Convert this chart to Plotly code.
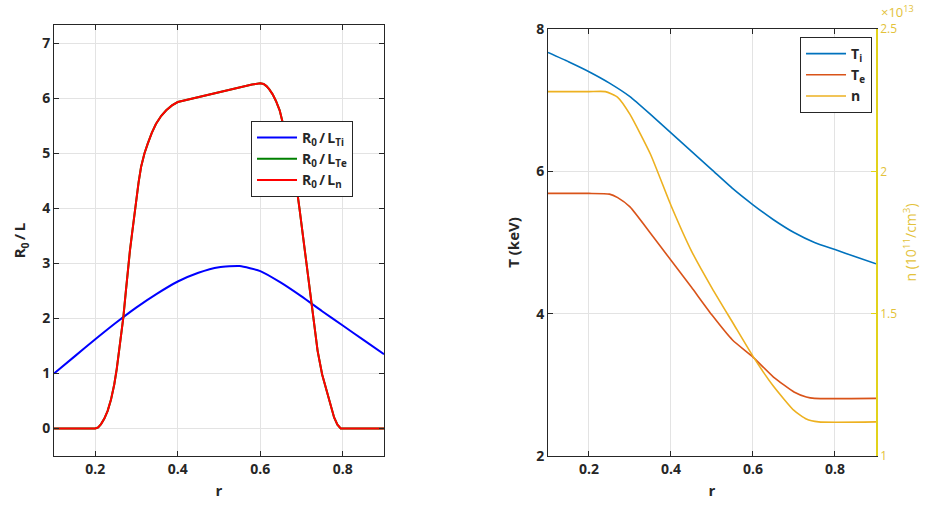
import plotly.graph_objects as go

# ---------------- data: left panel ----------------
r_ti = [0.1, 0.15, 0.2, 0.25, 0.3, 0.35, 0.4, 0.45, 0.5, 0.55, 0.6, 0.65, 0.7, 0.75, 0.8, 0.85, 0.9]
R0_LTi = [1.0, 1.31, 1.62, 1.92, 2.2, 2.45, 2.67, 2.83, 2.93, 2.95, 2.86, 2.65, 2.4, 2.13, 1.87, 1.61, 1.35]

r_n = [0.1, 0.2, 0.207, 0.214, 0.222, 0.23, 0.238, 0.246, 0.252, 0.258, 0.263, 0.268, 0.274, 0.279,
       0.284, 0.289, 0.294, 0.299, 0.305, 0.311, 0.319, 0.327, 0.337, 0.347, 0.36, 0.372, 0.386,
       0.4, 0.45, 0.5, 0.55, 0.58, 0.6, 0.608, 0.615, 0.622, 0.63, 0.638, 0.647, 0.656, 0.665,
       0.676, 0.687, 0.695, 0.703, 0.713, 0.723, 0.731, 0.739, 0.75, 0.763, 0.771, 0.779, 0.787,
       0.795, 0.9]
R0_Ln = [0.0, 0.0, 0.02, 0.08, 0.18, 0.32, 0.52, 0.8, 1.08, 1.41, 1.72, 2.02, 2.48, 2.93,
         3.23, 3.53, 3.84, 4.14, 4.47, 4.75, 4.99, 5.17, 5.37, 5.53, 5.68, 5.78, 5.87,
         5.93, 6.02, 6.1, 6.19, 6.25, 6.27, 6.26, 6.22, 6.16, 6.07, 5.95, 5.78, 5.53, 5.23,
         4.85, 4.44, 4.0, 3.53, 2.92, 2.32, 1.84, 1.41, 0.98, 0.62, 0.38, 0.2, 0.07,
         0.0, 0.0]
R0_LTe = R0_Ln  # coincides with R0/Ln (hidden beneath it)

# ---------------- data: right panel ----------------
r_T = [0.1, 0.15, 0.2, 0.25, 0.3, 0.35, 0.4, 0.45, 0.5, 0.55, 0.6, 0.65, 0.7, 0.75, 0.8, 0.85, 0.9]
Ti = [7.67, 7.54, 7.40, 7.24, 7.05, 6.80, 6.54, 6.28, 6.02, 5.76, 5.53, 5.32, 5.14, 5.00, 4.90, 4.80, 4.70]
r_Te = [0.1, 0.2, 0.25, 0.27, 0.3, 0.35, 0.4, 0.45, 0.5, 0.55, 0.6, 0.65, 0.7, 0.73, 0.75, 0.9]
Te = [5.69, 5.69, 5.68, 5.63, 5.50, 5.13, 4.75, 4.37, 3.98, 3.63, 3.39, 3.11, 2.90, 2.83, 2.81, 2.81]
r_dens = [0.1, 0.2, 0.24, 0.27, 0.3, 0.35, 0.4, 0.45, 0.5, 0.55, 0.6, 0.65, 0.7, 0.73, 0.76, 0.9]
n_dens = [2.28, 2.28, 2.28, 2.26, 2.2, 2.06, 1.88, 1.72, 1.59, 1.47, 1.35, 1.245, 1.16, 1.13, 1.12, 1.12]  # x10^13

left_xticks = [0.2, 0.4, 0.6, 0.8]
left_yticks = [0, 1, 2, 3, 4, 5, 6, 7]
right_yticks = [2, 4, 6, 8]
n_ticks = [1, 1.5, 2, 2.5]
n_ticktext = ["1", "1.5", "2", "2.5"]

FONT = "Open Sans"
AX = "#262626"
GRID = "#e3e3e3"
YEL = "#E3C23A"
YEL_LINE = "#E2D21A"
TS = "\u2009"  # thin space

fig = go.Figure()

smooth = dict(shape="spline", smoothing=0.5)

fig.add_trace(go.Scatter(x=r_ti, y=R0_LTi, mode="lines", name=f"R<sub>0</sub>{TS}/{TS}L<sub>Ti</sub>",
                         line=dict(color="#0000FF", width=2, **smooth), xaxis="x", yaxis="y", legend="legend"))
fig.add_trace(go.Scatter(x=r_n, y=R0_LTe, mode="lines", name=f"R<sub>0</sub>{TS}/{TS}L<sub>Te</sub>",
                         line=dict(color="#008000", width=2), xaxis="x", yaxis="y", legend="legend"))
fig.add_trace(go.Scatter(x=r_n, y=R0_Ln, mode="lines", name=f"R<sub>0</sub>{TS}/{TS}L<sub>n</sub>",
                         line=dict(color="#FF0000", width=2), xaxis="x", yaxis="y", legend="legend"))

fig.add_trace(go.Scatter(x=r_T, y=Ti, mode="lines", name="T<sub>i</sub>",
                         line=dict(color="#0072BD", width=1.6, **smooth), xaxis="x2", yaxis="y2", legend="legend2"))
fig.add_trace(go.Scatter(x=r_Te, y=Te, mode="lines", name="T<sub>e</sub>",
                         line=dict(color="#D95319", width=1.6, **smooth), xaxis="x2", yaxis="y2", legend="legend2"))
fig.add_trace(go.Scatter(x=r_dens, y=n_dens, mode="lines", name="n",
                         line=dict(color="#EDB120", width=1.6, **smooth), xaxis="x2", yaxis="y3", legend="legend2"))

tickfont = dict(family=FONT, size=14, color=AX, weight="bold")
titlefont = dict(family=FONT, size=15, color=AX, weight="bold")

common_x = dict(range=[0.1, 0.9], tickvals=left_xticks, ticktext=[str(v) for v in left_xticks],
                showgrid=True, gridcolor=GRID, showline=True, linecolor=AX, linewidth=1,
                mirror="ticks", ticks="inside", ticklen=5, tickcolor=AX, tickfont=tickfont,
                zeroline=False, automargin=False, title=dict(text="r", font=titlefont, standoff=8))

fig.update_layout(
    width=938, height=506,
    margin=dict(l=0, r=0, t=0, b=0, autoexpand=False),
    paper_bgcolor="white", plot_bgcolor="white",
    showlegend=True,
    xaxis=dict(domain=[0.0576, 0.4094], anchor="y", **common_x),
    yaxis=dict(domain=[0.0988, 0.9506], anchor="x", range=[-0.5, 7.33], tickvals=left_yticks,
               showgrid=True, gridcolor=GRID, showline=True, linecolor=AX, linewidth=1,
               mirror="ticks", ticks="inside", ticklen=5, tickcolor=AX, tickfont=tickfont,
               zeroline=False, automargin=False,
               title=dict(text=f"R<sub>0</sub>{TS}/{TS}L", font=titlefont, standoff=12)),
    xaxis2=dict(domain=[0.5842, 0.9339], anchor="y2", **common_x),
    yaxis2=dict(domain=[0.0988, 0.9427], anchor="x2", range=[2, 8], tickvals=right_yticks,
                showgrid=True, gridcolor=GRID, showline=True, linecolor=AX, linewidth=1,
                mirror=False, ticks="inside", ticklen=5, tickcolor=AX, tickfont=tickfont,
                zeroline=False, automargin=False,
                title=dict(text="T (keV)", font=titlefont, standoff=12)),
    yaxis3=dict(overlaying="y2", anchor="x2", side="right", range=[1, 2.5], tickvals=n_ticks,
                ticktext=n_ticktext, showgrid=False, showline=True, linecolor=YEL_LINE, linewidth=1.5,
                ticks="inside", ticklen=5, tickcolor=YEL_LINE, automargin=False,
                tickfont=dict(family=FONT, size=12, color=YEL), zeroline=False,
                title=dict(text="n (10<sup>11</sup>/cm<sup>3</sup>)",
                           font=dict(family=FONT, size=14, color=YEL), standoff=10)),
    legend=dict(x=0.2676, y=1 - 121 / 506, xanchor="left", yanchor="top",
                bgcolor="white", bordercolor=AX, borderwidth=1,
                font=dict(family=FONT, size=14, color=AX, weight="bold"),
                tracegroupgap=0, itemwidth=40),
    legend2=dict(x=0.8529, y=1 - 37 / 506, xanchor="left", yanchor="top",
                 bgcolor="white", bordercolor=AX, borderwidth=1,
                 font=dict(family=FONT, size=14, color=AX, weight="bold"),
                 tracegroupgap=0, itemwidth=40),
    annotations=[dict(text="\u00d710<sup>13</sup>", x=0.937, y=1.0, xref="paper", yref="paper",
                      xanchor="left", yanchor="top", showarrow=False,
                      font=dict(family=FONT, size=13, color=YEL))],
)

fig.write_html("out.html", config={"displayModeBar": False},
               post_script="document.body.style.margin='0';document.body.style.overflow='hidden';")
